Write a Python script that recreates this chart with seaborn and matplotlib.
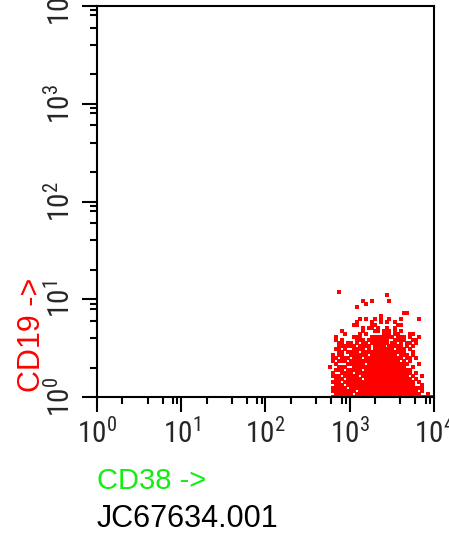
import matplotlib
matplotlib.use("Agg")
import matplotlib.pyplot as plt
import pandas as pd
import seaborn as sns
from matplotlib import font_manager

decades = [0, 1, 2, 3, 4]
minor_steps = [2, 4, 6, 8, 9]
x_label = "CD38 ->"
y_label = "CD19 ->"
file_name = "JC67634.001"

# dot plot, one entry per 3 px row (top to bottom),
# listing the filled bins (columns) of that row
bin_x0, bin_dx = 2.742, 0.0356
bin_y0, bin_dy = 1.156, 0.0307
dot_rows = [
    "",
    "",
    "3",
    "19",
    "",
    "11,14,20",
    "12",
    "9",
    "",
    "25-26",
    "17",
    "10,12,15,17,20,24,30",
    "9,14,17,19,22",
    "8-9,14-15,23-24",
    "11,13-14,16,19,22",
    "4,11,15-16,18-20,22,24",
    "5,10,12,18-20,22-23,27-28",
    "2,8-10,14-21,23-25,27,30",
    "2,4,9-11,13-19,22-25,28-29",
    "3-4,6-7,9,11-12,14-19,21-22,24,26-27,29",
    "3-8,10-13,15-18,20-24,26,28",
    "2-3,5,8-11,13,15-21,23-25,27",
    "3-4,6-9,11-25,28",
    "1,3-4,7-12,14-22,24-26,28",
    "1-2,4-6,8-10,12-24,26-27,29",
    "1,3-5,7-23,25,27",
    "2,6-11,13-26,30",
    "0,3-5,8-25,28",
    "2-4,6-10,12-26,27",
    "1,4-7,9-27,29",
    "1-3,5-9,11-26,28,31",
    "2-4,6-10,12-27,29",
    "1-3,5-28,30",
    "2-4,6-28,31",
    "1-5,7-31",
    "1-8,10-29,31",
    "2-7,9-30,33",
    "1-34",
]


def rows_to_events(rows):
    xs, ys = [], []
    for r, spec in enumerate(rows):
        for part in filter(None, spec.split(",")):
            a, _, b = part.partition("-")
            for c in range(int(a), int(b or a) + 1):
                xs.append(10 ** (bin_x0 + (c + 0.5) * bin_dx))
                ys.append(10 ** (bin_y0 - (r + 0.5) * bin_dy))
    return pd.DataFrame({"x": xs, "y": ys})


sns.set_style("ticks")
names = {f.name for f in font_manager.fontManager.ttflist}
tick_font = next((n for n in ["Liberation Sans Narrow", "DejaVu Sans Condensed",
                              "Roboto Condensed"] if n in names), "Liberation Sans")
plt.rcParams["font.family"] = ["Liberation Sans", "DejaVu Sans"]
plt.rcParams["mathtext.fontset"] = "custom"
plt.rcParams["mathtext.rm"] = tick_font
plt.rcParams["mathtext.it"] = tick_font

df = rows_to_events(dot_rows)

fig = plt.figure(figsize=(4.49, 5.36), dpi=100)
ax = fig.add_axes([0.216, 0.2593, 0.7506, 0.7295])
sns.scatterplot(data=df, x="x", y="y", marker="s", s=9, color="red",
                linewidth=0, ax=ax, legend=False)
ax.set_xscale("log")
ax.set_yscale("log")
ax.set_xlim(1, 1e4)
ax.set_ylim(1, 1e4)

major = [10 ** d for d in decades]
minor = [s * 10 ** d for d in decades[:-1] for s in minor_steps]
labels = [f"$10^{{{d}}}$" for d in decades]
ax.set_xticks(major)
ax.set_xticks(minor, minor=True)
ax.set_yticks(major)
ax.set_yticks(minor, minor=True)
ax.set_xticklabels(labels, fontsize=21)
ax.set_yticklabels(labels, fontsize=21, rotation=90, va="center")
ax.set_xticklabels([], minor=True)
ax.set_yticklabels([], minor=True)
ax.tick_params(which="major", length=11, width=1.5, color="black", pad=4)
ax.tick_params(which="minor", length=5, width=1.5, color="black")
ax.set_xlabel("")
ax.set_ylabel("")
for sp in ax.spines.values():
    sp.set_linewidth(1.5)
    sp.set_color("black")

fig.text(32 / 449, 1 - 335 / 536, y_label, color="red", fontsize=22,
         rotation=90, ha="center", va="center")
fig.text(97 / 449, 1 - 481 / 536, x_label, color="#11ee11", fontsize=21,
         ha="left", va="center")
fig.text(97 / 449, 1 - 519 / 536, file_name, color="black", fontsize=22,
         ha="left", va="center")

fig.savefig("out.png", dpi=100)
